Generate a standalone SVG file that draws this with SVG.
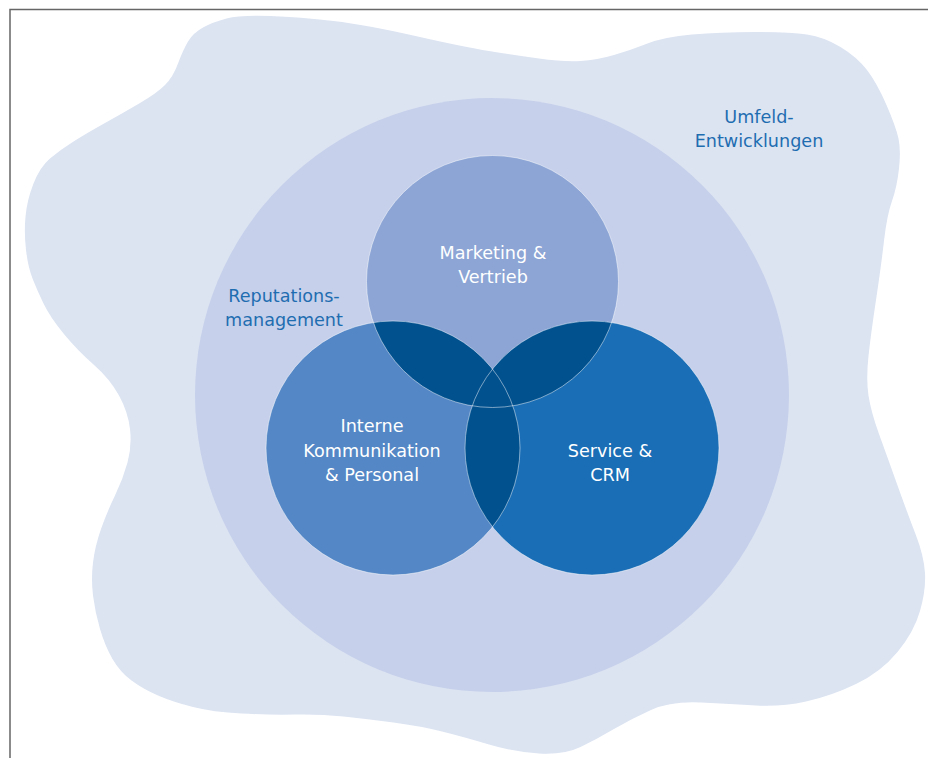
<svg xmlns="http://www.w3.org/2000/svg" width="928" height="758" viewBox="0 0 928 758">
<style>
.lbl{font-family:"DejaVu Sans","Liberation Sans",sans-serif;font-size:17.6px;text-anchor:middle}
.w{fill:#ffffff}
.b{fill:#1f6db1}
.edge{fill:none;stroke:#ffffff;stroke-opacity:0.6;stroke-width:0.8}
.ov{fill:#02518f}
</style>
<defs>
<clipPath id="cTop"><circle cx="492.5" cy="281.5" r="126"/></clipPath>
<clipPath id="cLeft"><circle cx="393" cy="448" r="127"/></clipPath>
</defs>
<rect width="928" height="758" fill="#ffffff"/>
<path d="M10,758 V9.5 H928" fill="none" stroke="#666666" stroke-width="1.5"/>
<g id="umfeld">
<path fill="#dce4f2" d="M226.5,18.5 Q240,15 270,16 Q300,17 333.5,21 Q367,25 415.5,36 Q464,47 489,51 Q514,55 539,58.5 Q564,62 580.5,61 Q597,60 614,55 Q631,50 647.5,43.5 Q664,37 692,34.5 Q720,32 755,32 Q790,32 807,34.5 Q824,37 840.5,47 Q857,57 867,70 Q877,83 886.5,105 Q896,127 898.5,138.5 Q901,150 899,168.5 Q897,187 892,201 Q887,215 884,241 Q881,267 876,300 Q871,333 868.5,356 Q866,379 868.5,395.5 Q871,412 879,434 Q887,456 897,484 Q907,512 915.5,534 Q924,556 925,573 Q926,590 920,611 Q914,632 897.5,652 Q881,672 856,684 Q831,696 806,701.5 Q781,707 756,705.5 Q731,704 701,702.5 Q671,701 651,710 Q631,719 614,729 Q597,739 580.5,747 Q564,755 539,753.5 Q514,752 489,744.5 Q464,737 442,731.5 Q420,726 393.5,722.5 Q367,719 343.5,716.5 Q320,714 295,714.5 Q270,715 241.5,713.5 Q213,712 193,707 Q173,702 158,695.5 Q143,689 131.5,680.5 Q120,672 112.5,659 Q105,646 100,629 Q95,612 93,595.5 Q91,579 93,562.5 Q95,546 101,529 Q107,512 115,495.5 Q123,479 127.5,462.5 Q132,446 130,429 Q128,412 119,395.5 Q110,379 93.5,364.5 Q77,350 63.5,333.5 Q50,317 43.5,303.5 Q37,290 32.5,278.5 Q28,267 26,250 Q24,233 25.5,216.5 Q27,200 33.5,183.5 Q40,167 50,158.5 Q60,150 73.5,141.5 Q87,133 105,123 Q123,113 140,103 Q157,93 165,85 Q173,77 178,63.5 Q183,50 188,41.5 Q193,33 203,27.5 Q213,22 226.5,18.5 Z"/>
<text class="lbl b" x="759" y="123">Umfeld-</text>
<text class="lbl b" x="759" y="147">Entwicklungen</text>
</g>
<g id="reputation">
<circle cx="492" cy="395" r="297" fill="#c6d0ea"/>
<text class="lbl b" x="284" y="302">Reputations-</text>
<text class="lbl b" x="284" y="326">management</text>
</g>
<g id="marketing">
<circle cx="492.5" cy="281.5" r="126" fill="#8ca5d5"/>
</g>
<g id="interne">
<circle cx="393" cy="448" r="127" fill="#5487c5"/>
</g>
<g id="service">
<circle cx="592" cy="448" r="127" fill="#1a6eb5"/>
</g>
<g id="overlaps">
<circle class="ov" cx="393" cy="448" r="127" clip-path="url(#cTop)"/>
<circle class="ov" cx="592" cy="448" r="127" clip-path="url(#cTop)"/>
<circle class="ov" cx="592" cy="448" r="127" clip-path="url(#cLeft)"/>
<circle class="edge" cx="492.5" cy="281.5" r="126"/>
<circle class="edge" cx="393" cy="448" r="127"/>
<circle class="edge" cx="592" cy="448" r="127"/>
</g>
<g id="labels">
<text class="lbl w" x="493" y="259">Marketing &amp;</text>
<text class="lbl w" x="493" y="283">Vertrieb</text>
<text class="lbl w" x="372" y="432">Interne</text>
<text class="lbl w" x="372" y="457">Kommunikation</text>
<text class="lbl w" x="372" y="481">&amp; Personal</text>
<text class="lbl w" x="610" y="457">Service &amp;</text>
<text class="lbl w" x="610" y="481">CRM</text>
</g>
</svg>
